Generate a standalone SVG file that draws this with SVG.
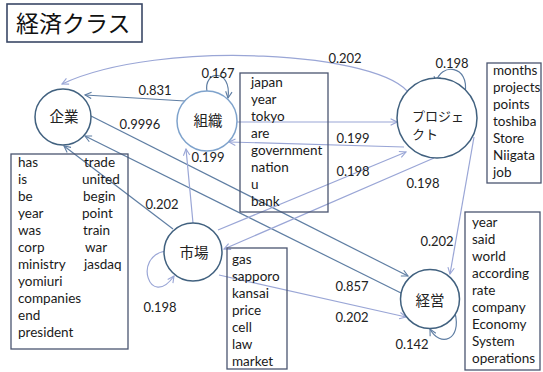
<svg xmlns="http://www.w3.org/2000/svg" width="543" height="372" viewBox="0 0 543 372">
<defs>
<style>
.bg{fill:#ffffff}
.title{fill:none;stroke:#3a4866;stroke-width:1.6}
.ttext{font-family:"Noto Sans CJK JP","Noto Sans",sans-serif;font-size:23px;fill:#111}
.node{fill:#ffffff;stroke:#41617f;stroke-width:1.5}
.node.light{stroke:#7fa3cc}
.nlabel{font-family:"Noto Sans CJK JP","Noto Sans",sans-serif;font-size:14.5px;fill:#222;text-anchor:middle}
.plabel{font-family:"Noto Sans CJK JP","Noto Sans",sans-serif;font-size:13px;fill:#222}
.box{fill:none;stroke:#4a5570;stroke-width:1.3}
.word{font-family:Lato,"Liberation Sans",sans-serif;font-size:13.5px;fill:#1a1a1a}
.elabel{font-family:Lato,"Liberation Sans",sans-serif;font-size:13px;fill:#222;text-anchor:middle}
.e{fill:none;stroke-width:1.2}
.dk{stroke:#5f7ea3}
.lt{stroke:#9aa6d6}
</style>
<marker id="adk" viewBox="0 0 10 10" refX="9" refY="5" markerWidth="8" markerHeight="8" markerUnits="userSpaceOnUse" orient="auto">
<path d="M1,1 L9,5 L1,9" fill="none" stroke="#5f7ea3" stroke-width="1.4"/>
</marker>
<marker id="alt" viewBox="0 0 10 10" refX="9" refY="5" markerWidth="8" markerHeight="8" markerUnits="userSpaceOnUse" orient="auto">
<path d="M1,1 L9,5 L1,9" fill="none" stroke="#9aa6d6" stroke-width="1.4"/>
</marker>
</defs>
<rect class="bg" x="0" y="0" width="543" height="372"/>

<g id="title">
<rect class="title" x="7" y="4" width="135" height="38"/>
<text class="ttext" x="16" y="32">経済クラス</text>
</g>

<g id="connectors">
<path class="e lt" d="M410,95 C385,52 160,38 62,84" marker-end="url(#alt)"/>
<path class="e dk" d="M185,101 L85,95" marker-end="url(#adk)"/>
<path class="e dk" d="M207,92 C203,70 232,68 228,98" marker-end="url(#adk)"/>
<path class="e dk" d="M91,116 L408,276" marker-end="url(#adk)"/>
<path class="e dk" d="M401,293 L85,136" marker-end="url(#adk)"/>
<path class="e lt" d="M237,122 L397,122" marker-end="url(#alt)"/>
<path class="e lt" d="M404,147 L229,142" marker-end="url(#alt)"/>
<path class="e lt" d="M218,230 L406,152" marker-end="url(#alt)"/>
<path class="e lt" d="M434,158 L224,249" marker-end="url(#alt)"/>
<path class="e dk" d="M465,93 C470,65 440,62 436,83" marker-end="url(#adk)"/>
<path class="e lt" d="M474,137 L450,274" marker-end="url(#alt)"/>
<path class="e dk" d="M173,229 L64,146" marker-end="url(#adk)"/>
<path class="e lt" d="M193,223 L186,149" marker-end="url(#alt)"/>
<path class="e lt" d="M166,251 C132,256 150,310 174,276" marker-end="url(#alt)"/>
<path class="e lt" d="M219,275 L406,317" marker-end="url(#alt)"/>
<path class="e dk" d="M455,313 C462,340 440,348 430,329" marker-end="url(#adk)"/>
<text class="elabel" x="345" y="63">0.202</text>
<text class="elabel" x="452" y="68">0.198</text>
<text class="elabel" x="218" y="78">0.167</text>
<text class="elabel" x="155" y="95">0.831</text>
<text class="elabel" x="140" y="129">0.9996</text>
<text class="elabel" x="208" y="162">0.199</text>
<text class="elabel" x="353" y="143">0.199</text>
<text class="elabel" x="353" y="176">0.198</text>
<text class="elabel" x="423" y="188">0.198</text>
<text class="elabel" x="162" y="209">0.202</text>
<text class="elabel" x="160" y="312">0.198</text>
<text class="elabel" x="437" y="246">0.202</text>
<text class="elabel" x="352" y="291">0.857</text>
<text class="elabel" x="352" y="322">0.202</text>
<text class="elabel" x="412" y="349">0.142</text>
</g>

<g id="node-kigyo">
<circle class="node" cx="63" cy="117" r="28"/>
<text class="nlabel" x="64" y="122">企業</text>
</g>
<g id="node-soshiki">
<circle class="node light" cx="207" cy="121" r="30"/>
<text class="nlabel" x="208" y="126">組織</text>
</g>
<g id="node-project">
<circle class="node" cx="437" cy="118" r="40"/>
<text class="plabel" x="412" y="121">プロジェ</text>
<text class="plabel" x="412" y="139">クト</text>
</g>
<g id="node-shijo">
<circle class="node" cx="193" cy="252" r="29"/>
<text class="nlabel" x="194" y="258">市場</text>
</g>
<g id="node-keiei">
<circle class="node" cx="430" cy="299" r="29.5"/>
<text class="nlabel" x="430" y="306">経営</text>
</g>

<g id="words-kigyo">
<rect class="box" x="11" y="154" width="117" height="195"/>
<text class="word" x="18" y="167">has</text>
<text class="word" x="18" y="184">is</text>
<text class="word" x="18" y="201">be</text>
<text class="word" x="18" y="218">year</text>
<text class="word" x="18" y="235">was</text>
<text class="word" x="18" y="252">corp</text>
<text class="word" x="18" y="269">ministry</text>
<text class="word" x="18" y="286">yomiuri</text>
<text class="word" x="18" y="303">companies</text>
<text class="word" x="18" y="320">end</text>
<text class="word" x="18" y="337">president</text>
<text class="word" x="84" y="167">trade</text>
<text class="word" x="82" y="184">united</text>
<text class="word" x="83" y="201">begin</text>
<text class="word" x="82" y="218">point</text>
<text class="word" x="83" y="235">train</text>
<text class="word" x="85" y="252">war</text>
<text class="word" x="84" y="269">jasdaq</text>
</g>

<g id="words-soshiki">
<rect class="box" x="240" y="73" width="88" height="139"/>
<text class="word" x="251" y="87">japan</text>
<text class="word" x="251" y="104">year</text>
<text class="word" x="251" y="121">tokyo</text>
<text class="word" x="251" y="138">are</text>
<text class="word" x="251" y="155">government</text>
<text class="word" x="251" y="172">nation</text>
<text class="word" x="251" y="189">u</text>
<text class="word" x="251" y="206">bank</text>
</g>

<g id="words-project">
<rect class="box" x="487" y="63" width="54" height="120"/>
<text class="word" x="493" y="75">months</text>
<text class="word" x="493" y="92">projects</text>
<text class="word" x="493" y="109">points</text>
<text class="word" x="493" y="126">toshiba</text>
<text class="word" x="493" y="143">Store</text>
<text class="word" x="493" y="160">Niigata</text>
<text class="word" x="493" y="177">job</text>
</g>

<g id="words-shijo">
<rect class="box" x="227" y="248" width="60" height="121"/>
<text class="word" x="232" y="264">gas</text>
<text class="word" x="232" y="281">sapporo</text>
<text class="word" x="232" y="298">kansai</text>
<text class="word" x="232" y="315">price</text>
<text class="word" x="232" y="332">cell</text>
<text class="word" x="232" y="349">law</text>
<text class="word" x="232" y="366">market</text>
</g>

<g id="words-keiei">
<rect class="box" x="465" y="212" width="75" height="158"/>
<text class="word" x="472" y="227">year</text>
<text class="word" x="472" y="244">said</text>
<text class="word" x="472" y="261">world</text>
<text class="word" x="472" y="278">according</text>
<text class="word" x="472" y="295">rate</text>
<text class="word" x="472" y="312">company</text>
<text class="word" x="472" y="329">Economy</text>
<text class="word" x="472" y="346">System</text>
<text class="word" x="472" y="363">operations</text>
</g>
</svg>
